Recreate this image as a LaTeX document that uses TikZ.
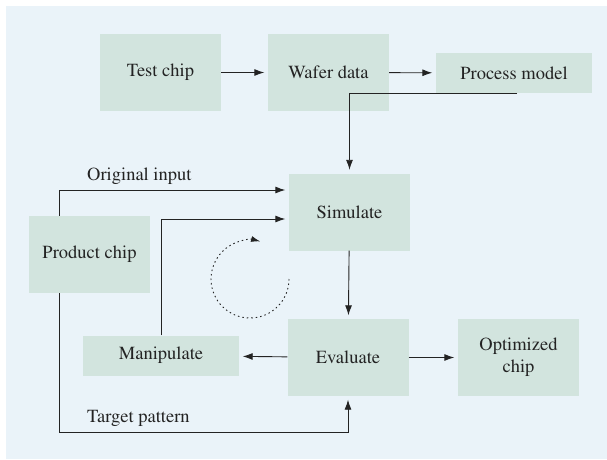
\documentclass[tikz,border=0pt]{standalone}
\usepackage[T1]{fontenc}
\usepackage{mathptmx}
\usetikzlibrary{arrows.meta, calc, positioning}
\definecolor{bgblue}{HTML}{EAF3F9}
\definecolor{boxgreen}{HTML}{D2E4DE}
\definecolor{inkgray}{HTML}{232323}

\tikzset{
  block/.style={fill=boxgreen, minimum width=121pt, minimum height=77pt, inner sep=0pt,
    text=inkgray, align=center, font=\fontsize{18.5}{22}\selectfont},
  flatblock/.style={block, minimum width=156pt, minimum height=40pt},
  link/.style={draw=inkgray, line width=0.9pt, -{Latex[length=10pt,width=7pt]}, shorten >=3.5pt},
  tag/.style={text=inkgray, inner sep=0pt, font=\fontsize{18.5}{22}\selectfont}
}

\begin{document}
\begin{tikzpicture}[x=1pt, y=-1pt]
    \useasboundingbox (0,0) rectangle (607,459);
    % Background
    \fill[bgblue] (6,6) rectangle (607,459);

    % Upper chain
    \node[block] (test) at (160.5,72.5) {Test chip};
    \node[block] (wafer) at (328.5,72.5) {Wafer data};
    \node[flatblock] (process) at (514,73) {Process model};

    % Optimization loop
    \node[block] (simulate) at (349.5,212) {Simulate};
    \node[block] (product) at (89.5,254.5) {Product chip};
    \node[flatblock] (manipulate) at (161,355.5) {Manipulate};
    \node[block] (evaluate) at (348,357.5) {Evaluate};
    \node[block] (optimized) at (518.5,357.5) {Optimized\\chip};

    % Turning points of the routed lines
    \coordinate (modelrow) at (0,129);
    \coordinate (inputrow) at (0,190);
    \coordinate (feedrow) at (0,219);
    \coordinate (targetrow) at (0,432);
    \coordinate (loopcentre) at (250,279);

    \draw[link] (test) -- (wafer);
    \draw[link] (wafer) -- (process);
    \draw[link] ($(process.south)+(3,0)$) -- ($(process.south)+(3,0)$ |- modelrow) -| (simulate.north);

    \draw[link] ($(product.north west)+(31,0)$) |- (simulate.west |- inputrow);
    \node[tag, anchor=base west] (inputlabel) at (87,180) {Original input};
    \draw[link] (manipulate.north) |- (simulate.west |- feedrow);

    \draw[link] (simulate) -- (evaluate);
    \draw[link] (evaluate) -- (manipulate);
    \draw[link] (evaluate) -- (optimized);

    \draw[link] ($(product.south west)+(31,0)$) |- (evaluate.south |- targetrow) -- (evaluate.south);
    \node[tag, anchor=base west] (targetlabel) at (87,422) {Target pattern};

    % Dotted loop arrow
    \draw[inkgray, line width=0.9pt, dash pattern=on 1.5pt off 3pt, -{Latex[length=9pt,width=6pt]}]
        ($(loopcentre)+(39,0)$) arc[start angle=0, end angle=285, radius=39];
\end{tikzpicture}
\end{document}
